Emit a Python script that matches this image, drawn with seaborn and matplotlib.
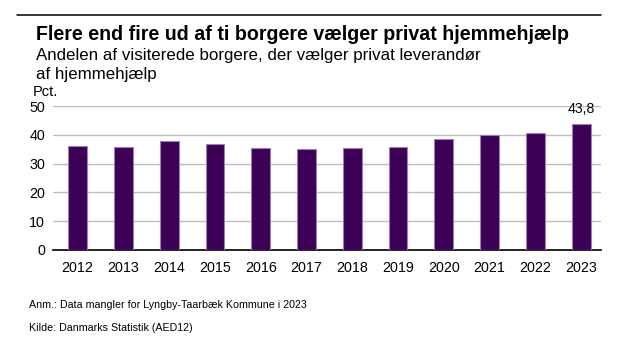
import matplotlib
matplotlib.use("Agg")
import matplotlib.pyplot as plt
from matplotlib.lines import Line2D
import seaborn as sns
import pandas as pd

years = ["2012", "2013", "2014", "2015", "2016", "2017",
         "2018", "2019", "2020", "2021", "2022", "2023"]
shares = [36.0, 35.9, 37.7, 36.7, 35.5, 35.0,
          35.4, 35.6, 38.4, 39.8, 40.8, 43.8]
yticks = [0, 10, 20, 30, 40, 50]

title = "Flere end fire ud af ti borgere vælger privat hjemmehjælp"
subtitle_lines = ["Andelen af visiterede borgere, der vælger privat leverandør",
                  "af hjemmehjælp"]
unit = "Pct."
note = "Anm.: Data mangler for Lyngby-Taarbæk Kommune i 2023"
source = "Kilde: Danmarks Statistik (AED12)"

df = pd.DataFrame({"year": years, "share": shares})

sns.set_theme(style="white")
plt.rcParams["font.family"] = ["Liberation Sans", "DejaVu Sans"]

bar_color = "#3C0057"

fig = plt.figure(figsize=(6.22, 3.46), dpi=100)
ax = fig.add_axes([0.0857, 0.2775, 0.966 - 0.0857, 0.6936 - 0.2775])

sns.barplot(data=df, x="year", y="share", color=bar_color, width=0.41,
            saturation=1, edgecolor="#9A80AA", linewidth=0.8, ax=ax, zorder=3)

ax.set_ylim(0, 50)
ax.set_xlim(-0.53, len(years) - 1 + 0.43)
ax.set_yticks(yticks)
ax.set_yticklabels([str(t) for t in yticks])
ax.yaxis.grid(True, color="#BDBDBD", linewidth=1.0, zorder=0)
ax.set_axisbelow(True)
for s in ["top", "right", "left"]:
    ax.spines[s].set_visible(False)
ax.spines["bottom"].set_color("black")
ax.spines["bottom"].set_linewidth(1.2)
ax.set_xlabel("")
ax.set_ylabel("")
ax.tick_params(axis="both", length=0, labelsize=10.3, colors="black")
ax.tick_params(axis="x", pad=8)
ax.tick_params(axis="y", pad=6)

# value label on the latest year
last = len(shares) - 1
ax.text(last, shares[last] + 2.6, f"{shares[last]:.1f}".replace(".", ","),
        ha="center", va="bottom", fontsize=10.2, color="black")

# header rule, title and subtitle
fig.add_artist(Line2D([17 / 622, 601 / 622], [1 - 15 / 346, 1 - 15 / 346],
                      color="black", linewidth=1.1))
fig.text(36 / 622, 1 - 40 / 346, title, fontsize=14.1, fontweight="bold",
         ha="left", va="baseline", color="black")
for line, base in zip(subtitle_lines, [60, 79]):
    fig.text(36 / 622, 1 - base / 346, line, fontsize=12.15, ha="left",
             va="baseline", color="black")
fig.text(33 / 622, 1 - 95.5 / 346, unit, fontsize=10.5, ha="left",
         va="baseline", color="black")

# notes
fig.text(29 / 622, 1 - 305 / 346, note, fontsize=7.7, ha="left",
         va="center", color="black")
fig.text(29 / 622, 1 - 328 / 346, source, fontsize=7.7, ha="left",
         va="center", color="black")

fig.savefig("out.png", dpi=100, facecolor="white")
